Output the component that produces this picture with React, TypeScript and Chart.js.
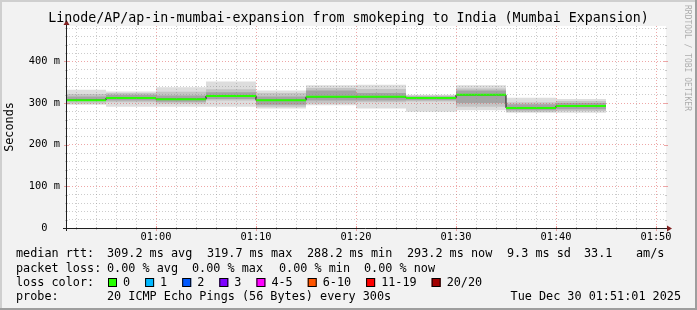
import React, { useEffect, useRef } from "react";
import { Chart, registerables } from "chart.js";

Chart.register(...registerables);

// ---------------- data ----------------
const TITLE = "Linode/AP/ap-in-mumbai-expansion from smokeping to India (Mumbai Expansion)";
const Y_TITLE = "Seconds";
const WATERMARK = "RRDTOOL / TOBI OETIKER";

const AXIS_START = "00:51";
const AXIS_END = "01:51";
const STEP_STARTS = ["00:51", "00:55", "01:00", "01:05", "01:10", "01:15", "01:20", "01:25", "01:30", "01:35", "01:40"];
const LAST_STEP_END = "01:45";

// values in milliseconds (axis unit "m" = milli-seconds)
const MEDIAN = [307, 312, 309, 317, 306.5, 315, 315, 312, 319.7, 288.2, 293.2];
const SMOKE_MIN = [296, 291, 291, 291, 287, 295, 287, 279, 283, 277, 277];
const SMOKE_MAX = [332, 328, 338, 352, 330, 343, 344, 320, 343, 313, 310];
const MID_LO = [299, 302, 299, 306, 291, 299, 302, 304, 291, 279, 281];
const MID_HI = [322, 324, 327, 333, 324, 336, 334, 318, 335, 302, 305];
const CORE_LO = [305, 306, 303, 310, 296, 306, 306, 307, 300, 283, 285];
const CORE_HI = [316, 320, 318, 326, 316, 330, 324, 316, 330, 297, 300];
const LOSS = [0, 0, 0, 0, 0, 0, 0, 0, 0, 0, 0];

const Y_MAX = 485;
const Y_LABEL_VALUES = [0, 100, 200, 300, 400];

const MEDIAN_STATS = ["309.2 ms avg", "319.7 ms max", "288.2 ms min", "293.2 ms now", "9.3 ms sd", "33.1", "am/s"];
const LOSS_STATS = ["0.00 % avg", "0.00 % max", "0.00 % min", "0.00 % now"];
const LOSS_LABELS = ["0", "1", "2", "3", "4-5", "6-10", "11-19", "20/20"];
const LOSS_COLORS = ["#26ff00", "#00b8ff", "#0059ff", "#7e00ff", "#ff00ff", "#ff5500", "#ff0000", "#a10000"];
const PROBE = "20 ICMP Echo Pings (56 Bytes) every 300s";
const STAMP = "Tue Dec 30 01:51:01 2025";

// ---------------- helpers ----------------
const FONT = '"DejaVu Sans Mono", monospace';
const hm = (s: string) => {
  const [h, m] = s.split(":").map(Number);
  return h * 60 + m;
};
const T0 = hm(AXIS_START);
const toX = (s: string) => hm(s) - T0;
const X_MAX = hm(AXIS_END) - T0;
const fmt = (min: number) => {
  const t = T0 + min;
  const h = Math.floor(t / 60) % 24;
  const m = t % 60;
  return `${String(h).padStart(2, "0")}:${String(m).padStart(2, "0")}`;
};
const isMajorX = (v: number) => (T0 + v) % 10 === 0;

const stepSeries = (vals: number[]) =>
  STEP_STARTS.map((t, i) => ({ x: toX(t), y: vals[i] })).concat([
    { x: toX(LAST_STEP_END), y: vals[vals.length - 1] },
  ]);

const segmentSeries = (vals: number[]) =>
  STEP_STARTS.flatMap((t, i) => {
    const end = i + 1 < STEP_STARTS.length ? STEP_STARTS[i + 1] : LAST_STEP_END;
    return [
      { x: toX(t), y: vals[i] },
      { x: toX(end), y: vals[i] },
      { x: toX(end), y: null as any },
    ];
  });

const lossColor = (l: number) => {
  if (l <= 0) return LOSS_COLORS[0];
  if (l <= 3) return LOSS_COLORS[l];
  if (l <= 5) return LOSS_COLORS[4];
  if (l <= 10) return LOSS_COLORS[5];
  if (l <= 19) return LOSS_COLORS[6];
  return LOSS_COLORS[7];
};

const hidden = "rgba(0,0,0,0)";
const GRID_MINOR = "rgba(143,143,143,0.45)";
const GRID_MAJOR = "rgba(222,79,79,0.5)";

const band = (lo: number[], hi: number[], color: string, loIndex: number, order: number) => [
  { data: stepSeries(lo), stepped: true, borderColor: hidden, borderWidth: 0, pointRadius: 0, fill: false, order },
  {
    data: stepSeries(hi),
    stepped: true,
    borderColor: hidden,
    borderWidth: 0,
    pointRadius: 0,
    fill: { target: loIndex },
    backgroundColor: color,
    order,
  },
];

// ---------------- plugins ----------------
const framePlugin = {
  id: "rrdFrame",
  beforeDraw(chart: any) {
    const { ctx, width, height, chartArea: a } = chart;
    ctx.save();
    ctx.fillStyle = "#f2f2f2";
    ctx.fillRect(0, 0, width, height);
    // 3D border
    ctx.fillStyle = "#cfcfcf";
    ctx.fillRect(0, 0, width, 2);
    ctx.fillRect(0, 0, 2, height);
    ctx.fillStyle = "#9e9e9e";
    ctx.fillRect(0, height - 2, width, 2);
    ctx.fillRect(width - 2, 0, 2, height);
    // canvas
    ctx.fillStyle = "#ffffff";
    ctx.fillRect(a.left, a.top, a.right - a.left, a.bottom - a.top);
    ctx.restore();
  },
  afterDraw(chart: any) {
    const { ctx, width, chartArea: a } = chart;
    const xs = chart.scales.x;
    const ys = chart.scales.y;
    ctx.save();

    // small tick marks on the axes
    ctx.lineWidth = 1;
    xs.ticks.forEach((t: any) => {
      const px = Math.round(xs.getPixelForValue(t.value)) + 0.5;
      const major = isMajorX(t.value);
      ctx.strokeStyle = major ? GRID_MAJOR : GRID_MINOR;
      const d = major ? 2 : 1;
      ctx.beginPath();
      ctx.moveTo(px, a.bottom - d);
      ctx.lineTo(px, a.bottom + d + 1);
      ctx.stroke();
    });
    ys.ticks.forEach((t: any) => {
      if (t.value === 0) return;
      const py = Math.round(ys.getPixelForValue(t.value)) + 0.5;
      const major = t.value % 100 === 0;
      ctx.strokeStyle = major ? GRID_MAJOR : GRID_MINOR;
      const d = major ? 2 : 1;
      ctx.beginPath();
      ctx.moveTo(a.left - d, py);
      ctx.lineTo(a.left + d + 1, py);
      ctx.moveTo(a.right - d, py);
      ctx.lineTo(a.right + d, py);
      ctx.stroke();
    });

    // axes
    ctx.strokeStyle = "#1f1f1f";
    ctx.lineWidth = 1;
    ctx.beginPath();
    ctx.moveTo(a.left - 3, a.bottom + 0.5);
    ctx.lineTo(a.right + 2, a.bottom + 0.5);
    ctx.stroke();
    ctx.beginPath();
    ctx.moveTo(a.left + 0.5, a.bottom + 3);
    ctx.lineTo(a.left + 0.5, a.top - 1);
    ctx.stroke();
    // arrows
    ctx.fillStyle = "#801f1f";
    ctx.beginPath();
    ctx.moveTo(a.right + 6, a.bottom + 0.5);
    ctx.lineTo(a.right + 1, a.bottom - 2.5);
    ctx.lineTo(a.right + 1, a.bottom + 3.5);
    ctx.closePath();
    ctx.fill();
    ctx.beginPath();
    ctx.moveTo(a.left + 0.5, a.top - 6);
    ctx.lineTo(a.left - 2.5, a.top - 1);
    ctx.lineTo(a.left + 3.5, a.top - 1);
    ctx.closePath();
    ctx.fill();

    // title
    ctx.fillStyle = "#000";
    ctx.textBaseline = "middle";
    ctx.textAlign = "center";
    ctx.font = `13.3px ${FONT}`;
    ctx.fillText(TITLE, width / 2, 18.5);

    // y title
    ctx.font = `11.8px ${FONT}`;
    ctx.save();
    ctx.translate(10, (a.top + a.bottom) / 2);
    ctx.rotate(-Math.PI / 2);
    ctx.fillText(Y_TITLE, 0, 0);
    ctx.restore();

    // watermark
    ctx.save();
    ctx.font = `8px ${FONT}`;
    ctx.fillStyle = "rgba(0,0,0,0.3)";
    ctx.translate(width - 10, 5);
    ctx.rotate(Math.PI / 2);
    ctx.textAlign = "left";
    ctx.fillText(WATERMARK, 0, 0);
    ctx.restore();

    // legend
    ctx.textAlign = "left";
    ctx.font = `11.8px ${FONT}`;
    const c0 = 16;
    const c1 = 107;
    const rows = [254, 269, 283, 297];
    ctx.fillText("median rtt:", c0, rows[0]);
    const medX = [107, 207, 307, 407, 507, 584, 636];
    MEDIAN_STATS.forEach((s, i) => ctx.fillText(s, medX[i], rows[0]));
    ctx.fillText("packet loss:", c0, rows[1]);
    const lossX = [107, 192, 279, 364];
    LOSS_STATS.forEach((s, i) => ctx.fillText(s, lossX[i], rows[1]));
    ctx.fillText("loss color:", c0, rows[2]);
    let x = c1 + 1;
    LOSS_LABELS.forEach((lab, i) => {
      ctx.fillStyle = LOSS_COLORS[i];
      ctx.fillRect(x, rows[2] - 5, 9, 9);
      ctx.strokeStyle = "#000";
      ctx.strokeRect(x + 0.5, rows[2] - 4.5, 8, 8);
      ctx.fillStyle = "#000";
      const tx = x + 15;
      ctx.fillText(lab, tx, rows[2]);
      x = tx + ctx.measureText(lab).width + 15;
    });
    ctx.fillText("probe:", c0, rows[3]);
    ctx.fillText(PROBE, c1, rows[3]);
    ctx.textAlign = "right";
    ctx.fillText(STAMP, 681, rows[3]);
    ctx.restore();
  },
};

// ---------------- component ----------------
export default function App() {
  const ref = useRef<HTMLCanvasElement | null>(null);

  useEffect(() => {
    document.body.style.margin = "0";
    const canvas = ref.current!;
    const datasets: any[] = [
      ...band(SMOKE_MIN, SMOKE_MAX, "#dddddd", 0, 4),
      ...band(MID_LO, MID_HI, "#c4c4c4", 2, 3),
      ...band(CORE_LO, CORE_HI, "#a4a4a4", 4, 2),
      {
        data: stepSeries(MEDIAN),
        stepped: true,
        borderColor: "#141414",
        borderWidth: 1,
        pointRadius: 0,
        fill: false,
        order: 1,
      },
      {
        data: segmentSeries(MEDIAN),
        borderColor: lossColor(LOSS[0]),
        borderWidth: 2,
        pointRadius: 0,
        fill: false,
        spanGaps: false,
        order: 0,
      },
    ];

    const xTickValues: number[] = [];
    for (let v = 1; v < X_MAX; v += 2) xTickValues.push(v);
    const yTickValues: number[] = [];
    for (let v = 0; v <= Y_MAX; v += 20) yTickValues.push(v);

    const chart = new Chart(canvas, {
      type: "line",
      data: { datasets },
      options: {
        animation: false,
        responsive: false,
        devicePixelRatio: 1,
        events: [],
        layout: { padding: { left: 0, right: 31, top: 26, bottom: 0 } },
        plugins: { legend: { display: false }, tooltip: { enabled: false }, title: { display: false } },
        elements: { line: { tension: 0 } },
        scales: {
          x: {
            type: "linear",
            min: 0,
            max: X_MAX,
            afterBuildTicks: (s: any) => {
              s.ticks = xTickValues.map((v) => ({ value: v }));
            },
            afterFit: (s: any) => {
              s.height = 82;
            },
            ticks: {
              autoSkip: false,
              maxRotation: 0,
              minRotation: 0,
              padding: 3,
              color: "#000",
              font: { family: FONT, size: 10.35 },
              callback: (v: any) => (isMajorX(Number(v)) ? fmt(Number(v)) : ""),
            },
            grid: {
              z: 1,
              drawTicks: false,
              lineWidth: 1,
              color: (c: any) => (isMajorX(c.tick.value) ? GRID_MAJOR : GRID_MINOR),
            },
            border: { display: false, dash: [1, 2] },
          },
          y: {
            type: "linear",
            min: 0,
            max: Y_MAX,
            afterBuildTicks: (s: any) => {
              s.ticks = yTickValues.map((v) => ({ value: v }));
            },
            afterFit: (s: any) => {
              s.width = 66;
            },
            ticks: {
              autoSkip: false,
              padding: 6,
              color: "#000",
              font: { family: FONT, size: 10.35 },
              callback: (v: any) => {
                const n = Number(v);
                if (!Y_LABEL_VALUES.includes(n)) return "";
                return n === 0 ? "0  " : `${n} m`;
              },
            },
            grid: {
              z: 1,
              drawTicks: false,
              lineWidth: 1,
              color: (c: any) =>
                c.tick.value === 0 ? hidden : c.tick.value % 100 === 0 ? GRID_MAJOR : GRID_MINOR,
            },
            border: { display: false, dash: [1, 2] },
          },
        },
      } as any,
      plugins: [framePlugin],
    });
    return () => chart.destroy();
  }, []);

  return <canvas ref={ref} width={697} height={310} style={{ display: "block", width: 697, height: 310 }} />;
}
